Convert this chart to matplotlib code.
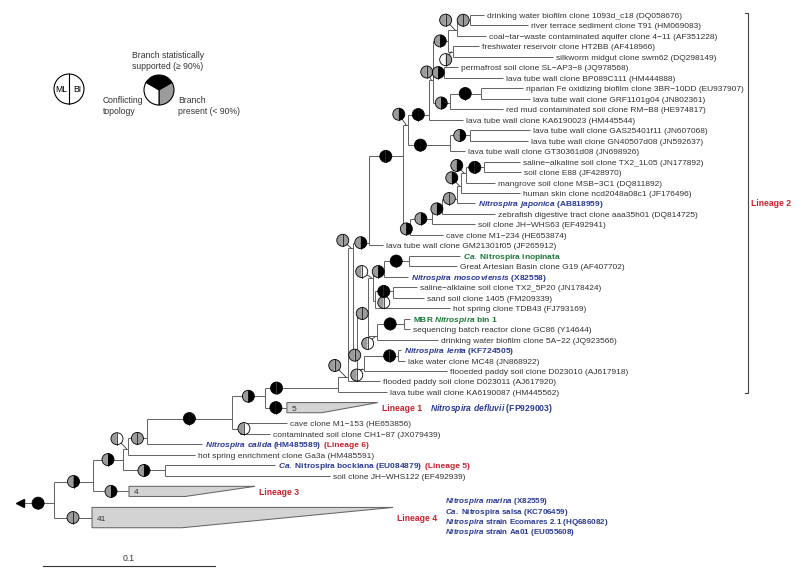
import re
import matplotlib
matplotlib.use("Agg")
import matplotlib.pyplot as plt
import matplotlib.transforms as mtransforms
from matplotlib.patches import Wedge, Circle, Polygon
from matplotlib.lines import Line2D

plt.rcParams['font.family'] = ['Liberation Sans', 'DejaVu Sans']
plt.rcParams['mathtext.fontset'] = 'custom'
plt.rcParams['mathtext.it'] = 'Liberation Sans:italic:bold'
plt.rcParams['mathtext.rm'] = 'Liberation Sans:bold'
plt.rcParams['mathtext.bf'] = 'Liberation Sans:bold'

# ------------------------------------------------------------------ data
# topology (top-to-bottom order of children)
children = {
    'R': ['A', 'T41'], 'A': ['B', 'T4'], 'B': ['C', 'NB'], 'C': ['D', 'L42'],
    'D': ['E', 'L41'], 'E': ['F', 'G'], 'F': ['NA', 'T5'], 'G': ['L39', 'L40'],
    'NB': ['L43', 'L44'], 'NA': ['X2', 'L37'], 'X2': ['P', 'L36'], 'P': ['X1', 'Q'],
    'Q': ['M2', 'M3'], 'M3': ['N3334', 'L35'], 'N3334': ['L33', 'L34'],
    'M2': ['M1', 'N3032'], 'N3032': ['N3031', 'L32'], 'N3031': ['L30', 'L31'],
    'M1': ['N2426', 'N2729'], 'N2426': ['N2425', 'L26'], 'N2425': ['L24', 'L25'],
    'N2729': ['N2728', 'L29'], 'N2728': ['L27', 'L28'],
    'X1': ['X4', 'L23'], 'X4': ['W', 'V'], 'W': ['Y1', 'Z'], 'Y1': ['Y2', 'L11'],
    'Y2': ['N15', 'N67', 'N810'], 'N15': ['N123', 'N45'], 'N123': ['N12', 'L3'],
    'N12': ['L1', 'L2'], 'N45': ['L4', 'L5'], 'N67': ['L6', 'L7'],
    'N810': ['N89', 'L10'], 'N89': ['L8', 'L9'], 'Z': ['N1213', 'L14'],
    'N1213': ['L12', 'L13'], 'V': ['V2', 'L22'], 'V2': ['V3', 'L21'],
    'V3': ['V4', 'L20'], 'V4': ['V5', 'L19'], 'V5': ['V6', 'L18'],
    'V6': ['N1516', 'L17'], 'N1516': ['L15', 'L16'],
}

# branch lengths (substitutions per site); 'R' is the root stem
branch_length = {
    'R': 0.0215,
    'A': 0.0227, 'T41': 0.0221, 'B': 0.0174, 'T4': 0.0209, 'C': 0.0029, 'NB': 0.0244,
    'D': 0.0110, 'L42': 0.0390, 'L43': 0.0640, 'L44': 0.0959,
    'E': 0.0494, 'L41': 0.0320, 'F': 0.0192, 'G': 0.0047, 'L39': 0.0273, 'L40': 0.0174,
    'NA': 0.0424, 'T5': 0.0128, 'X2': 0.0058, 'L37': 0.0285, 'P': 0.0029, 'L36': 0.0186,
    'X1': 0.0093, 'Q': 0.0023, 'M2': 0.0064, 'M3': 0.0041, 'N3334': 0.0198, 'L35': 0.0483,
    'L33': 0.0017, 'L34': 0.0041, 'M1': 0.0029, 'N3032': 0.0052, 'N3031': 0.0157,
    'L32': 0.0355, 'L30': 0.0035, 'L31': 0.0035, 'N2426': 0.0064, 'N2729': 0.0012,
    'N2425': 0.0145, 'L26': 0.0140, 'L24': 0.0297, 'L25': 0.0279, 'N2728': 0.0105,
    'L29': 0.0436, 'L27': 0.0140, 'L28': 0.0180,
    'X4': 0.0198, 'L23': 0.0081, 'W': 0.0029, 'V': 0.0041, 'Y1': 0.0122, 'Z': 0.0244,
    'Y2': 0.0023, 'L11': 0.0198, 'N15': 0.0087, 'N67': 0.0064, 'N810': 0.0099,
    'N123': 0.0052, 'N45': 0.0029, 'N12': 0.0076, 'L3': 0.0169, 'L1': 0.0081,
    'L2': 0.0337, 'L4': 0.0151, 'L5': 0.0581, 'L6': 0.0081, 'L7': 0.0343,
    'N89': 0.0180, 'L10': 0.0308, 'L8': 0.0244, 'L9': 0.0285, 'N1213': 0.0116,
    'L14': 0.0087, 'L12': 0.0349, 'L13': 0.0337,
    'V2': 0.0128, 'L22': 0.0192, 'V3': 0.0058, 'L21': 0.0250, 'V4': 0.0087,
    'L20': 0.0308, 'V5': 0.0023, 'L19': 0.0105, 'V6': 0.0029, 'L18': 0.0343,
    'N1516': 0.0105, 'L17': 0.0169, 'L15': 0.0209, 'L16': 0.0215,
}

# collapsed groups: members, longest and shortest depth inside the group
collapsed = {'T5': (5, 0.0529, 0.0203), 'T4': (4, 0.0733, 0.0326),
             'T41': (41, 0.1750, 0.0523)}

# node support: (ML, BI) S = supported >=90 %, P = present <90 %, C = conflicting
support = {
    'R': 'SS', 'A': 'PS', 'T41': 'PP', 'B': 'PS', 'T4': 'PS', 'C': 'PC', 'D': 'PP',
    'NB': 'PS', 'E': 'SS', 'F': 'PS', 'G': 'PC', 'NA': 'SS', 'T5': 'SS', 'X2': 'PP',
    'P': 'PP', 'X1': 'PS', 'Q': 'PP', 'M3': 'PC', 'M2': 'PP', 'N3032': 'PC',
    'N3031': 'SS', 'M1': 'PC', 'N2426': 'PS', 'N2425': 'SS', 'N2729': 'PC',
    'N2728': 'SS', 'N3334': 'SS', 'X4': 'SS', 'W': 'PS', 'Y1': 'SS', 'Y2': 'PP',
    'N15': 'PS', 'N123': 'PP', 'N12': 'PP', 'N45': 'CP', 'N67': 'PS', 'N810': 'PS',
    'N89': 'SS', 'Z': 'SS', 'N1213': 'PS', 'V': 'PS', 'V2': 'PS', 'V3': 'PS',
    'V4': 'PP', 'V5': 'PS', 'V6': 'PS', 'N1516': 'SS',
}

# leaf labels: plain strings or coloured runs (text, kind); *...* = italic
leaf_labels = {
    'L1': 'drinking water biofilm clone 1093d_c18 (DQ058676)',
    'L2': 'river terrace sediment clone T91 (HM069083)',
    'L3': 'coal\u2212tar\u2212waste contaminated aquifer clone 4\u221211 (AF351228)',
    'L4': 'freshwater reservoir clone HT2BB (AF418966)',
    'L5': 'silkworm midgut clone swm62 (DQ298149)',
    'L6': 'permafrost soil clone SL\u2212AP3\u22128 (JQ978568)',
    'L7': 'lava tube wall clone BP089C111 (HM444888)',
    'L8': 'riparian Fe oxidizing biofilm clone 3BR\u221210DD (EU937907)',
    'L9': 'lava tube wall clone GRF1101g04 (JN802361)',
    'L10': 'red mud contaminated soil clone RM\u2212B8 (HE974817)',
    'L11': 'lava tube wall clone KA6190023 (HM445544)',
    'L12': 'lava tube wall clone GAS25401f11 (JN607068)',
    'L13': 'lava tube wall clone GN40507d08 (JN592637)',
    'L14': 'lava tube wall clone GT30361d08 (JN698926)',
    'L15': 'saline\u2212alkaline soil clone TX2_1L05 (JN177892)',
    'L16': 'soil clone E88 (JF428970)',
    'L17': 'mangrove soil clone MSB\u22123C1 (DQ811892)',
    'L18': 'human skin clone ncd2048a08c1 (JF176496)',
    'L19': [('*Nitrospira japonica* (AB818959)', 'b')],
    'L20': 'zebrafish digestive tract clone aaa35h01 (DQ814725)',
    'L21': 'soil clone JH\u2212WHS63 (EF492941)',
    'L22': 'cave clone M1\u2212234 (HE653874)',
    'L23': 'lava tube wall clone GM21301f05 (JF265912)',
    'L24': [('*Ca.* Nitrospira inopinata', 'g')],
    'L25': 'Great Artesian Basin clone G19 (AF407702)',
    'L26': [('*Nitrospira moscoviensis* (X82558)', 'b')],
    'L27': 'saline\u2212alklaine soil clone TX2_5P20 (JN178424)',
    'L28': 'sand soil clone 1405 (FM209339)',
    'L29': 'hot spring clone TDB43 (FJ793169)',
    'L30': [('MBR *Nitrospira* bin 1', 'g')],
    'L31': 'sequencing batch reactor clone GC86 (Y14644)',
    'L32': 'drinking water biofilm clone 5A\u221222 (JQ923566)',
    'L33': [('*Nitrospira lenta* (KF724505)', 'b')],
    'L34': 'lake water clone MC48 (JN868922)',
    'L35': 'flooeded paddy soil clone D023010 (AJ617918)',
    'L36': 'flooded paddy soil clone D023011 (AJ617920)',
    'L37': 'lava tube wall clone KA6190087 (HM445562)',
    'L39': 'cave clone M1\u2212153 (HE653856)',
    'L40': 'contaminated soil clone CH1\u221287 (JX079439)',
    'L41': [('*Nitrospira calida* (HM485589)', 'b'), ('(Lineage 6)', 'r')],
    'L42': 'hot spring enrichment clone Ga3a (HM485591)',
    'L43': [('*Ca.* Nitrospira bockiana (EU084879)', 'b'), ('(Lineage 5)', 'r')],
    'L44': 'soil clone JH\u2212WHS122 (EF492939)',
}
group_labels = {
    'T5': [('Lineage 1', 'r'), ('*Nitrospira defluvii* (FP929003)', 'b', 6)],
    'T4': [('Lineage 3', 'r')],
    'T41': [('Lineage 4', 'r')],
}
lineage4_members = [
    '*Nitrospira marina* (X82559)',
    '*Ca.* Nitrospira salsa (KC706459)',
    '*Nitrospira* strain Ecomares 2.1 (HQ686082)',
    '*Nitrospira* strain Aa01 (EU055608)',
]
lineage2_leaves = ('L1', 'L37')
scale_length = 0.1

# ------------------------------------------------------------------ layout / style
collapsed_rows = {'T5': 2, 'T4': 2, 'T41': 3}
attach = {  # where the parent branch meets the vertical bar (0 = top child, 1 = bottom)
    'N12': 0.5, 'N123': 0.63, 'N45': 0.5, 'N15': 0.5, 'N67': 0.5, 'N89': 0.5,
    'N810': 0.6, 'Y2': 0.63, 'Y1': 0.87, 'N1213': 0.5, 'Z': 0.62, 'W': 0.35,
    'N1516': 0.55, 'V6': 0.4, 'V5': 0.63, 'V4': 0.72, 'V3': 0.67, 'V2': 0.63,
    'V': 0.63, 'X4': 0.3, 'X1': 0.97, 'N2425': 0.5, 'N2426': 0.67, 'N2728': 0.4,
    'N2729': 0.6, 'M1': 0.2, 'N3031': 0.5, 'N3032': 0.8, 'M2': 0.61, 'N3334': 0.55,
    'M3': 0.87, 'Q': 0.75, 'P': 0.05, 'X2': 0.97, 'NA': 0.73, 'F': 0.42, 'G': 0.5,
    'E': 0.69, 'D': 0.77, 'C': 0.63, 'NB': 0.5, 'B': 0.5, 'A': 0.69, 'R': 0.6,
}
pie_place = {  # default: middle of the branch
    'NA': ('frac', 0.16), 'Z': ('frac', 0.3), 'N3334': ('frac', 0.76), 'R': ('frac', 0.57),
    'N123': ('off', -11, -10, True), 'N45': ('off', -7, 8, True), 'Y2': ('off', -6, -8, True),
    'W': ('off', -9, -11, True), 'V6': ('off', -9, -8, True), 'V5': ('off', -9, -8, True),
    'P': ('off', -10, -8, True), 'M1': ('off', -11, -6, True), 'N2729': ('off', 9, 1, False),
    'N3032': ('off', -9, 7, True), 'M3': ('off', -7, 6, True), 'X2': ('off', -13, -12, True),
    'C': ('off', -11, -10, True), 'G': ('off', 4, 0, False),
}
BLUE, GREEN, RED, TXT = '#2b3a96', '#1b7a3a', '#c8212b', '#333333'
KIND = {'n': (TXT, False), 'b': (BLUE, True), 'g': (GREEN, True), 'r': (RED, True)}
PIECOL = {'S': 'black', 'P': '#9b9b9b', 'C': 'white'}
LINE = '#666666'
FS = 6.05
GFS = 6.2
MFS = 5.8
W_PX, H_PX = 800, 578
XLIM = (-0.031395, 0.433721)
YLIM = (53.77, -1.4327)

fig = plt.figure(figsize=(W_PX / 100, H_PX / 100), dpi=100)
ax = fig.add_axes([0, 0, 1, 1])
ax.set_xlim(*XLIM)
ax.set_ylim(*YLIM)
ax.axis('off')
renderer = fig.canvas.get_renderer()
dxp = (XLIM[1] - XLIM[0]) / W_PX

# ---- compute layout
parent = {c: p for p, cs in children.items() for c in cs}
depth = {'R': 0.0}
def set_depth(n):
    for c in children.get(n, []):
        depth[c] = depth[n] + branch_length[c]
        set_depth(c)
set_depth('R')

ypos = {}
row = [0]
def set_y(n):
    if n in children:
        for c in children[n]:
            set_y(c)
        y_top, y_bot = ypos[children[n][0]], ypos[children[n][-1]]
        ypos[n] = y_top + attach.get(n, 0.6) * (y_bot - y_top)
    else:
        k = collapsed_rows.get(n, 1)
        ypos[n] = row[0] + (k - 1) / 2.0
        row[0] += k
set_y('R')

# ---- branches
lk = dict(color=LINE, lw=0.75, solid_capstyle='butt', zorder=1)
for n, cs in children.items():
    x = depth[n]
    ax.plot([x, x], [ypos[cs[0]], ypos[cs[-1]]], **lk)
    for c in cs:
        ax.plot([x, depth[c]], [ypos[c], ypos[c]], **lk)
stem_tip = depth['R'] - branch_length['R']
ax.plot([stem_tip, depth['R']], [ypos['R'], ypos['R']], **lk)
ax.plot([stem_tip + 3 * dxp], [ypos['R']], marker='<', ms=5.5, color='black',
        mec='black', zorder=2)

# ---- collapsed triangles
for n, (cnt, dmax, dmin) in collapsed.items():
    x0 = depth[n]
    h = (collapsed_rows[n] - 1) / 2.0 * 0.97
    yc = ypos[n]
    ax.add_patch(Polygon([(x0, yc - h), (x0 + dmax, yc - h), (x0 + dmin, yc + h),
                          (x0, yc + h)], closed=True, facecolor='#d3d3d3',
                         edgecolor=LINE, lw=0.75, zorder=1))
    ax.annotate(str(cnt), (x0, yc), xytext=(5, -0.36 * FS * 100 / 72),
                textcoords='offset pixels', ha='left', va='baseline', fontsize=FS,
                color=TXT)

# ---- text helper
def to_math(s):
    return re.sub(r'\*([^*]+)\*',
                  lambda m: '$\\mathit{' + m.group(1).replace(' ', '\\ ') + '}$', s)

def runs_at(x, y, runs, xoff, yoff=0.0, size=FS):
    fpx = size * 100 / 72.0
    cur = xoff
    for i, run in enumerate(runs):
        txt, kind = run[0], run[1]
        if i > 0:
            cur += 0.278 * fpx + (run[2] if len(run) > 2 else 0)
        color, bold = KIND[kind]
        t = ax.annotate(to_math(txt), (x, y), xytext=(cur, yoff - 0.36 * fpx),
                        textcoords='offset pixels', ha='left', va='baseline',
                        fontsize=size, color=color,
                        fontweight='bold' if bold else 'normal', zorder=6)
        cur += t.get_window_extent(renderer).width
    return cur

for n, lab in leaf_labels.items():
    runs = [(lab, 'n')] if isinstance(lab, str) else lab
    runs_at(depth[n], ypos[n], runs, 3)

for n, runs in group_labels.items():
    runs_at(depth[n] + collapsed[n][1], ypos[n], runs, 4, size=GFS)
t41_tip = depth['T41'] + collapsed['T41'][1]
for off, txt in zip([17, 6.8, -3.4, -13.6], lineage4_members):
    runs_at(t41_tip, ypos['T41'], [(txt, 'b')], 52, yoff=off, size=MFS)

# ---- Lineage 2 bracket
bx = 0.4035
ytop = ypos[lineage2_leaves[0]] - 0.2
ybot = ypos[lineage2_leaves[1]] + 0.1
ax.plot([bx - 3 * dxp, bx, bx, bx - 3 * dxp], [ytop, ytop, ybot, ybot],
        color='#444444', lw=0.8, zorder=1)
runs_at(bx, (ytop + ybot) / 2, [('Lineage 2', 'r')], 3, size=GFS)

# ---- support pies
def pie(xd, yd, code, dx=0.0, dy=0.0, leader=False, r=6.0):
    base = mtransforms.ScaledTranslation(xd, yd, ax.transData)
    tr = mtransforms.Affine2D().scale(r).translate(dx, -dy) + base
    if leader:
        ax.add_line(Line2D([dx, -1.5], [-dy, 0], color='#333333', lw=0.6,
                           transform=mtransforms.Affine2D() + base, zorder=3))
    ax.add_patch(Wedge((0, 0), 1, 90, 270, facecolor=PIECOL[code[0]],
                       edgecolor='none', transform=tr, zorder=4))
    ax.add_patch(Wedge((0, 0), 1, -90, 90, facecolor=PIECOL[code[1]],
                       edgecolor='none', transform=tr, zorder=4))
    ax.add_patch(Circle((0, 0), 1, fill=False, edgecolor='black', lw=0.6,
                        transform=tr, zorder=5))
    ax.add_line(Line2D([0, 0], [-1, 1], color='black', lw=0.5, transform=tr, zorder=5))

for n, code in support.items():
    x_par = depth[parent[n]] if n in parent else stem_tip
    place = pie_place.get(n, ('frac', 0.5))
    if place[0] == 'frac':
        pie(x_par + place[1] * (depth[n] - x_par), ypos[n], code)
    else:
        pie(depth[n], ypos[n], code, place[1], place[2], place[3])

# ---- scale bar
sb_x = -0.0064
sb_y = 52.6
ax.plot([sb_x, sb_x + scale_length], [sb_y, sb_y], color='#333333', lw=0.8)
ax.annotate('%g' % scale_length, (sb_x + scale_length / 2, sb_y), xytext=(0, 7),
            textcoords='offset pixels', ha='center', va='center', fontsize=GFS,
            color=TXT)

# ---- legend (pixel coordinates)
lax = fig.add_axes([0, 0, 1, 1])
lax.set_xlim(0, W_PX)
lax.set_ylim(H_PX, 0)
lax.axis('off')
lax.add_patch(Circle((69, 89), 15, facecolor='white', edgecolor='black', lw=0.8))
lax.plot([69, 69], [74, 104], color='black', lw=0.8)
lax.text(61.5, 89, 'ML', ha='center', va='center', fontsize=6.2, color='black')
lax.text(77, 89, 'BI', ha='center', va='center', fontsize=6.2, color='black')
cx, cy, rr = 159, 90, 15
for t1, t2, col in [(-150, -30, 'black'), (-30, 90, '#9b9b9b'), (90, 210, 'white')]:
    lax.add_patch(Wedge((cx, cy), rr, t1, t2, facecolor=col, edgecolor='black', lw=0.8))
lax.text(132, 61, 'Branch statistically\nsupported (\u2265 90%)', ha='left', va='center',
         fontsize=6.2, color=TXT, linespacing=1.25)
lax.text(103, 106, 'Conflicting\ntopology', ha='left', va='center', fontsize=6.2,
         color=TXT, linespacing=1.25)
lax.text(178, 106, 'Branch\npresent (< 90%)', ha='left', va='center', fontsize=6.2,
         color=TXT, linespacing=1.25)

fig.savefig('out.png', dpi=100)
